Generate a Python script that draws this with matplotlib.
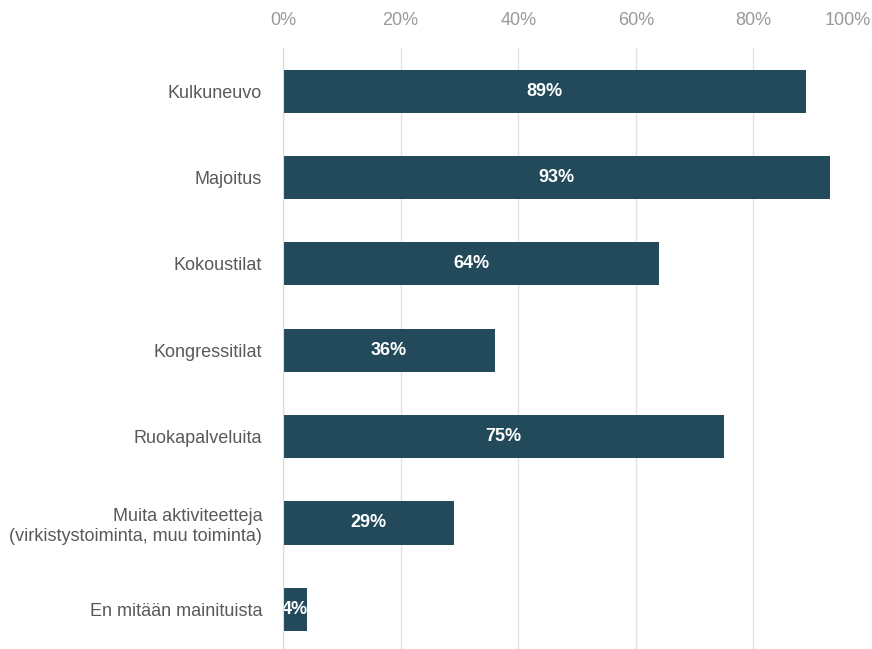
import matplotlib.pyplot as plt
import numpy as np

categories = ['Kulkuneuvo', 'Majoitus', 'Kokoustilat', 'Kongressitilat',
              'Ruokapalveluita',
              'Muita aktiviteetteja\n(virkistystoiminta, muu toiminta)',
              'En mitään mainituista']
values = [89, 93, 64, 36, 75, 29, 4]
xticks = [0, 20, 40, 60, 80, 100]
xtick_labels = ['0%', '20%', '40%', '60%', '80%', '100%']

bar_color = '#234a5a'

plt.rcParams['font.family'] = ['Liberation Sans', 'DejaVu Sans']

fig = plt.figure(figsize=(8.72, 6.49), dpi=100)
ax = fig.add_axes([283 / 872, 0.0, 588 / 872, 1 - 48 / 649])

y = np.arange(len(categories))
ax.barh(y, values, height=0.5, color=bar_color, zorder=3)

for yi, v in zip(y, values):
    ax.text(v / 2, yi, f'{v}%', ha='center', va='center', color='white',
            fontsize=13, fontweight='bold', zorder=4)

ax.set_xlim(0, 100)
ax.set_ylim(6.46, -0.5)
ax.set_yticks(y)
ax.set_yticklabels(categories, fontsize=13, color='#595959')
ax.set_xticks(xticks)
ax.set_xticklabels(xtick_labels, fontsize=13, color='#999999')
ax.xaxis.tick_top()
ax.tick_params(axis='x', length=0, pad=14)
ax.tick_params(axis='y', length=0, pad=15)
for lab in ax.get_yticklabels():
    lab.set_multialignment('right')
ax.get_xticklabels()[-1].set_horizontalalignment('right')

ax.grid(axis='x', color='#e3e3e3', linewidth=1, zorder=0)
for s in ['top', 'right', 'bottom']:
    ax.spines[s].set_visible(False)
ax.spines['left'].set_color('#d5d9e0')
ax.spines['left'].set_zorder(5)

fig.savefig('out.png', dpi=100)
